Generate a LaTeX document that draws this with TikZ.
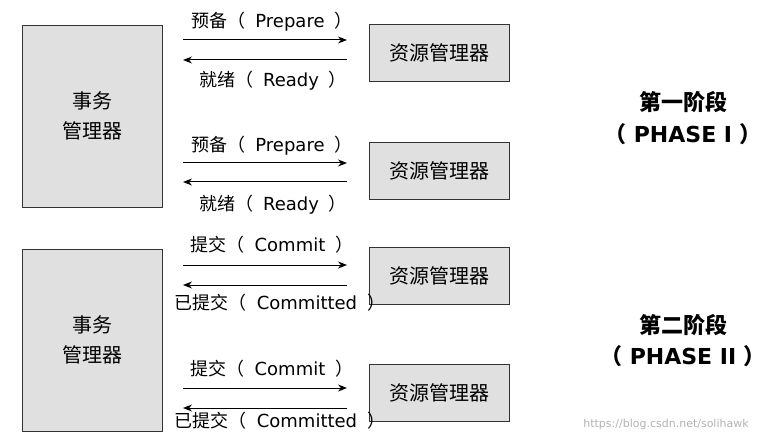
\documentclass[tikz,border=0pt]{standalone}
\usepackage{fontspec}
\setmainfont{DejaVu Sans}
\newfontfamily\cjk{Noto Sans CJK SC}
\usetikzlibrary{arrows.meta}
\newcommand{\lbl}[2]{{\cjk #1（}\hspace{10pt}#2\hspace{10pt}{\cjk ）}}
\begin{document}
\begin{tikzpicture}[x=1pt,y=-1pt,
  big/.style={draw=black!80,fill=black!12,minimum width=140pt,minimum height=182pt,font=\cjk\fontsize{20}{30}\selectfont,align=center,inner sep=0},
  rm/.style={draw=black!80,fill=black!12,minimum width=140pt,minimum height=57pt,font=\cjk\fontsize{20}{24}\selectfont,inner sep=0},
  lab/.style={font=\fontsize{18}{20}\selectfont,inner sep=1pt},
  ph/.style={font=\bfseries\fontsize{22}{26}\selectfont},
  arr/.style={-{Stealth[length=9pt,width=7pt]},line width=1pt}]
\useasboundingbox (0,0) rectangle (777,441);
\node[big] (L1) at (92,116) {事务\\管理器};
\node[big] (L2) at (92,340) {事务\\管理器};
\node[rm] (R1) at (439,53) {资源管理器};
\node[rm] (R2) at (439,171) {资源管理器};
\node[rm] (R3) at (439,276) {资源管理器};
\node[rm] (R4) at (439,393) {资源管理器};
\foreach \r/\ya/\yb/\la/\lb/\xa/\xb/\t/\b in {1/40/60/22/81/272/273/{\lbl{预备}{Prepare}}/{\lbl{就绪}{Ready}},2/163/182/146/205/272/273/{\lbl{预备}{Prepare}}/{\lbl{就绪}{Ready}},3/265/285/245/303/272/280/{\lbl{提交}{Commit}}/{\lbl{已提交}{Committed}},4/388/408/369/421/272/280/{\lbl{提交}{Commit}}/{\lbl{已提交}{Committed}}}{
  \coordinate (a\r) at (183,\ya); \coordinate (b\r) at (347,\ya);
  \coordinate (c\r) at (347,\yb); \coordinate (d\r) at (183,\yb);
  \draw[arr] (a\r) -- (b\r);
  \draw[arr] (c\r) -- (d\r);
  \node[lab] (t\r) at (\xa,\la) {\t};
  \node[lab] (u\r) at (\xb,\lb) {\b};
}
\node[ph] (p1) at (683,102) {\cjk 第一阶段};
\node[ph] (p2) at (683,134) {{\cjk（}~PHASE~I~{\cjk ）}};
\node[ph] (p3) at (683,325) {\cjk 第二阶段};
\node[ph] (p4) at (683,356) {{\cjk（}~PHASE~II~{\cjk ）}};
\node[font=\fontsize{11}{13}\selectfont,text=black!30] (w) at (666,424) {https://blog.csdn.net/solihawk};
\end{tikzpicture}
\end{document}
